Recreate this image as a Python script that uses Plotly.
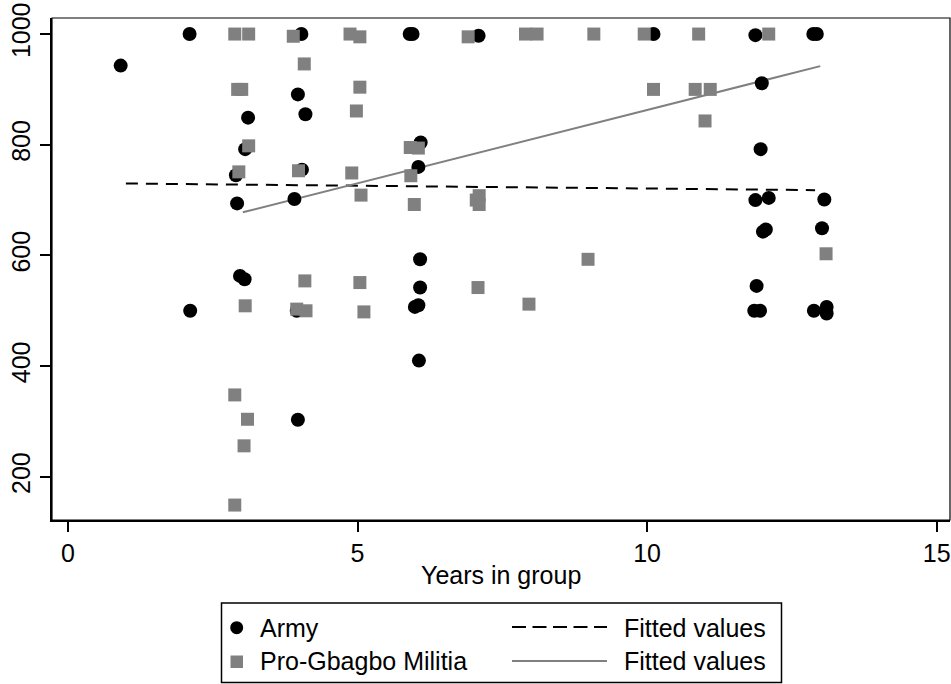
import plotly.graph_objects as go

# ---- data ----
army_x = [0.91, 2.10, 2.11, 2.90, 2.92, 2.97, 3.05, 3.06, 3.11, 3.91, 3.95, 3.97, 3.97, 4.03, 4.04, 4.10,
          5.90, 5.95, 5.99, 6.05, 6.05, 6.06, 6.08, 6.08, 6.09, 7.09, 10.11, 11.85, 11.87, 11.87, 11.89,
          11.95, 11.96, 11.98, 12.00, 12.05, 12.10, 12.88, 12.87, 12.93, 13.02, 13.06, 13.10, 13.10]
army_y = [943, 1000, 500, 745, 694, 563, 557, 792, 849, 702, 500, 891, 303, 1000, 755, 855,
          1000, 1000, 507, 510, 760, 410, 593, 542, 804, 997, 1000, 500, 700, 998, 545,
          500, 792, 911, 643, 647, 704, 500, 1000, 1000, 649, 701, 507, 495]

militia_x = [2.88, 3.12, 3.89, 4.08, 2.93, 3.00, 3.12, 2.95, 3.98, 4.87, 5.04, 6.91, 7.90, 8.10, 9.08,
             5.04, 4.98, 5.91, 6.05, 4.90, 5.92, 5.06, 5.98, 7.05, 7.10, 7.10, 8.98, 9.95, 10.89, 12.10,
             10.11, 10.83, 11.09, 11.00, 13.09, 4.09, 3.06, 3.95, 4.11, 2.88, 3.10, 3.04, 2.88, 5.04,
             5.11, 7.08, 7.96]
militia_y = [1000, 1000, 996, 946, 900, 900, 798, 751, 753, 1000, 995, 995, 1000, 1000, 1000,
             904, 861, 795, 794, 749, 744, 709, 692, 700, 708, 692, 593, 1000, 1000, 1000,
             900, 900, 900, 843, 603, 554, 509, 503, 500, 348, 304, 256, 149, 551,
             498, 542, 512]

fit_army_x = [1.0, 12.9]
fit_army_y = [730, 718]
fit_militia_x = [3.02, 12.99]
fit_militia_y = [678, 942]

x_ticks = [0, 5, 10, 15]
y_ticks = [200, 400, 600, 800, 1000]
x_title = "Years in group"
legend_labels = ["Army", "Pro-Gbagbo Militia", "Fitted values", "Fitted values"]

BLACK = "#000000"
GRAY = "#808080"
FONT = "Liberation Sans, Arial, sans-serif"
FS = 25

W, H = 951, 684
ML, MR, MT, MB = 52, 1, 18, 164
PW, PH = W - ML - MR, H - MT - MB

def px(x):
    return (x - ML) / PW

def py(y):
    return (H - MB - y) / PH

fig = go.Figure()
fig.add_trace(go.Scatter(x=fit_army_x, y=fit_army_y, mode="lines",
                         line=dict(color=BLACK, width=2, dash="12px,8px"), name=legend_labels[2],
                         showlegend=False))
fig.add_trace(go.Scatter(x=fit_militia_x, y=fit_militia_y, mode="lines",
                         line=dict(color=GRAY, width=2), name=legend_labels[3], showlegend=False))
fig.add_trace(go.Scatter(x=army_x, y=army_y, mode="markers",
                         marker=dict(symbol="circle", size=14, color=BLACK, line=dict(width=0)),
                         name=legend_labels[0], showlegend=False))
fig.add_trace(go.Scatter(x=militia_x, y=militia_y, mode="markers",
                         marker=dict(symbol="square", size=13, color=GRAY, line=dict(width=0)),
                         name=legend_labels[1], showlegend=False))

# legend drawn by hand (Stata style two-column box)
shapes = [
    dict(type="rect", xref="paper", yref="paper", x0=px(221.5), x1=px(781.5), y0=py(682.5), y1=py(603),
         line=dict(color=BLACK, width=1.5), fillcolor="white"),
    dict(type="circle", xref="paper", yref="paper", x0=px(230.2), x1=px(243.2), y0=py(634.2), y1=py(621.2),
         line=dict(width=0), fillcolor=BLACK),
    dict(type="rect", xref="paper", yref="paper", x0=px(230.5), x1=px(243), y0=py(668), y1=py(655.5),
         line=dict(width=0), fillcolor=GRAY),
    dict(type="line", xref="paper", yref="paper", x0=px(512), x1=px(607), y0=py(627), y1=py(627),
         line=dict(color=BLACK, width=2, dash="14px,6.5px")),
    dict(type="line", xref="paper", yref="paper", x0=px(512), x1=px(607), y0=py(661), y1=py(661),
         line=dict(color=GRAY, width=2)),
    # plot region outline (top / right)
    dict(type="rect", xref="paper", yref="paper", x0=0, x1=1, y0=0, y1=1,
         line=dict(color=BLACK, width=1.2), layer="below"),
]
annotations = [
    dict(text=legend_labels[0], xref="paper", yref="paper", x=px(258), y=py(627.5), xanchor="left",
         yanchor="middle", showarrow=False, font=dict(size=FS, color=BLACK, family=FONT)),
    dict(text=legend_labels[1], xref="paper", yref="paper", x=px(258), y=py(661), xanchor="left",
         yanchor="middle", showarrow=False, font=dict(size=FS, color=BLACK, family=FONT)),
    dict(text=legend_labels[2], xref="paper", yref="paper", x=px(622), y=py(627.5), xanchor="left",
         yanchor="middle", showarrow=False, font=dict(size=FS, color=BLACK, family=FONT)),
    dict(text=legend_labels[3], xref="paper", yref="paper", x=px(622), y=py(661), xanchor="left",
         yanchor="middle", showarrow=False, font=dict(size=FS, color=BLACK, family=FONT)),
    dict(text=x_title, xref="paper", yref="paper", x=0.5, y=py(575), xanchor="center",
         yanchor="middle", showarrow=False, font=dict(size=FS, color=BLACK, family=FONT)),
]

fig.update_layout(
    width=W, height=H,
    margin=dict(l=ML, r=MR, t=MT, b=MB, pad=0),
    paper_bgcolor="white", plot_bgcolor="white",
    font=dict(family=FONT, size=FS, color=BLACK),
    shapes=shapes, annotations=annotations,
    showlegend=False,
)
fig.update_xaxes(range=[-0.276, 15.23], tickvals=x_ticks, ticks="outside", ticklen=10, tickwidth=1.5,
                 tickcolor=BLACK, showgrid=False, zeroline=False, showline=True, linecolor=BLACK,
                 linewidth=2, tickfont=dict(size=FS, family=FONT))
fig.update_yaxes(range=[122, 1029], tickvals=y_ticks, ticks="outside", ticklen=10, tickwidth=1.5,
                 tickcolor=BLACK, showgrid=False, zeroline=False, showline=True, linecolor=BLACK,
                 linewidth=2, tickangle=-90, tickfont=dict(size=FS, family=FONT))

fig.write_html("out.html")
